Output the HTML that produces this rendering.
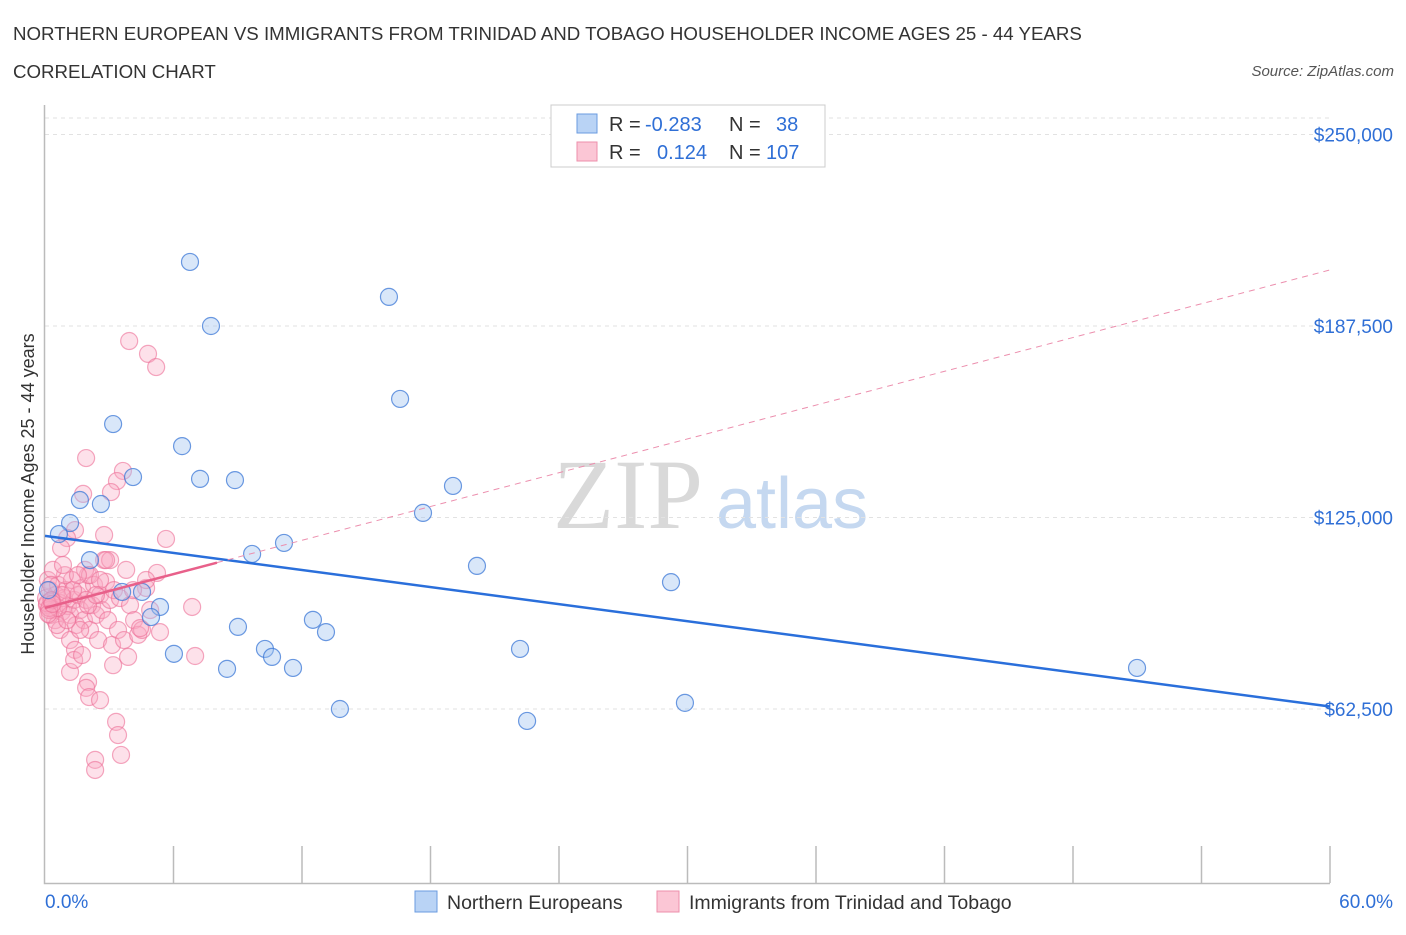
<!DOCTYPE html>
<html><head><meta charset="utf-8">
<style>
body{margin:0;background:#fff;font-family:"Liberation Sans",sans-serif;}
svg text{font-family:"Liberation Sans",sans-serif;}
</style></head>
<body>
<svg id="chart" width="1406" height="930" xmlns="http://www.w3.org/2000/svg">
<text x="13" y="40" font-size="18.7" fill="#333">NORTHERN EUROPEAN VS IMMIGRANTS FROM TRINIDAD AND TOBAGO HOUSEHOLDER INCOME AGES 25 - 44 YEARS</text>
<text x="13" y="78" font-size="18.7" fill="#333">CORRELATION CHART</text>
<text x="1394" y="76" font-size="15" fill="#555" font-style="italic" text-anchor="end">Source: ZipAtlas.com</text>
<text transform="translate(34,494) rotate(-90)" font-size="18" fill="#333" text-anchor="middle">Householder Income Ages 25 - 44 years</text>
<g>
<text x="553" y="528" font-size="100" style="font-family:'Liberation Serif',serif" fill="#d9d9d9">ZIP</text>
<text x="716" y="528" font-size="72" fill="#c5d8f0">atlas</text>
</g>
<g id="grid"></g>
<g id="axes"></g>
<g id="pts"></g>
<g id="lines"></g>
<g>
<rect x="551" y="105" width="274" height="62" fill="#fff" stroke="#ccc"/>
<rect x="577" y="114" width="20" height="19" fill="#b9d3f5" stroke="#6a9be0"/>
<rect x="577" y="142" width="20" height="19" fill="#fbc6d5" stroke="#ee8fab"/>
<text x="609" y="131" font-size="20" fill="#333">R =</text>
<text x="645" y="131" font-size="20" fill="#2f6fd6">-0.283</text>
<text x="729" y="131" font-size="20" fill="#333">N =</text>
<text x="776" y="131" font-size="20" fill="#2f6fd6">38</text>
<text x="609" y="159" font-size="20" fill="#333">R =</text>
<text x="657" y="159" font-size="20" fill="#2f6fd6">0.124</text>
<text x="729" y="159" font-size="20" fill="#333">N =</text>
<text x="766" y="159" font-size="20" fill="#2f6fd6">107</text>
</g>
<g>
<rect x="415" y="891" width="22" height="21" fill="#b9d3f5" stroke="#6a9be0"/>
<text x="447" y="909" font-size="19.5" fill="#333">Northern Europeans</text>
</g>
<g>
<rect x="657" y="891" width="22" height="21" fill="#fbc6d5" stroke="#ee8fab"/>
<text x="689" y="909" font-size="19.5" fill="#333">Immigrants from Trinidad and Tobago</text>
</g>
</svg>
<script>
const yTicks=[62500,125000,187500,250000];
const yTickLabels=["$62,500","$125,000","$187,500","$250,000"];
const xTickLabels=["0.0%","60.0%"];
const blueX=[6.77,16.06,7.75,16.58,3.18,6.40,7.24,8.87,4.11,1.63,2.61,19.05,17.65,1.17,0.65,11.16,9.67,2.10,20.17,29.23,3.60,4.53,5.37,4.95,12.51,13.12,9.01,6.02,10.27,10.60,11.58,8.50,22.18,50.99,13.77,29.88,22.51,0.14];
const blueY=[208.4,197.0,187.5,163.7,155.5,148.3,137.6,137.2,138.2,130.7,129.4,135.3,126.5,123.2,119.6,116.7,113.1,111.1,109.2,103.9,100.7,100.7,95.8,92.5,91.6,87.6,89.3,80.5,82.1,79.5,75.9,75.6,82.1,75.9,62.5,64.5,58.6,101.3];
const pinkX=[0.14,0.23,0.33,0.42,0.09,0.51,0.61,0.70,0.79,0.89,0.98,1.07,1.17,1.26,1.36,1.45,1.54,1.64,1.73,1.82,1.92,2.01,2.10,2.20,2.29,2.38,2.48,2.57,2.66,2.76,2.85,2.94,3.04,3.13,3.22,3.41,3.50,3.69,3.79,3.97,4.16,4.35,4.53,4.72,4.91,0.47,0.70,0.93,1.17,1.40,1.64,1.87,2.10,0.23,0.37,0.56,0.84,1.03,1.31,1.54,2.57,3.04,2.01,2.38,0.05,0.19,0.28,0.61,0.79,0.10,0.20,0.30,0.15,0.35,
3.93,4.81,5.19,1.92,3.64,3.36,3.08,1.78,5.65,2.76,1.40,1.03,2.85,0.75,6.87,7.01,3.32,3.41,3.55,2.34,2.34,2.01,1.92,2.06,2.57,1.17,1.36,1.73,3.18,3.88,5.23,4.72,4.11,4.44,5.37];
const pinkY=[104.6,101.3,98.1,94.8,96.4,99.7,103.0,97.1,94.2,98.7,101.3,96.1,93.2,104.6,98.1,89.9,99.7,94.8,102.0,91.5,98.1,106.2,88.3,96.4,103.0,93.2,85.0,99.7,94.8,111.1,104.0,91.5,98.1,83.4,101.3,88.3,98.7,85.0,107.9,96.4,91.5,86.7,88.3,102.0,94.8,91.5,88.3,106.2,85.0,81.8,88.3,107.9,106.2,93.2,107.9,89.9,109.5,91.5,101.3,106.2,104.6,111.1,96.4,99.7,98.7,94.8,103.0,95.5,99.7,97.0,95.5,98.0,93.5,96.8,
182.6,178.4,174.1,144.4,140.2,136.9,133.3,132.7,118.0,119.3,120.9,118.3,111.1,115.0,95.8,79.8,58.3,54.0,47.5,45.9,42.6,71.3,69.4,66.4,65.4,74.6,78.5,80.1,76.8,79.5,106.9,104.6,101.3,88.9,87.6];
const blueTrend=[119.0,63.3];
const pinkTrend=[95.5,205.8];
const pinkSolidEnd=8.03;

const NS="http://www.w3.org/2000/svg";
function X(p){return 45+p*1285/60;}
function Y(k){return 900.5-k*1000/62500*191.5;}
function mk(tag,attrs,parent){const e=document.createElementNS(NS,tag);for(const a in attrs)e.setAttribute(a,attrs[a]);document.getElementById(parent).appendChild(e);return e;}

const topGrid=mk('line',{x1:45,x2:1330,y1:118,y2:118,stroke:'#e2e2e2','stroke-dasharray':'4,4'},'grid');


yTicks.forEach((v,i)=>{
  const g=mk('line',{x1:45,x2:1330,y1:Y(v/1000),y2:Y(v/1000),stroke:'#e2e2e2','stroke-dasharray':'4,4'},'grid');
  
  
  const t=mk('text',{x:1393,y:Y(v/1000)+7,'font-size':19,fill:'#2f6fd6','text-anchor':'end'},'axes');
  t.textContent=yTickLabels[i];
  
  
});
const ax=mk('path',{d:'M44.5,105 V883.5 H1330',stroke:'#bbb',fill:'none','stroke-width':1.5},'axes');


for(let i=1;i<=10;i++){
  const tk=mk('line',{x1:X(i*6),x2:X(i*6),y1:846,y2:883,stroke:'#bbb','stroke-width':1.5},'axes');
  
  
}
const xl0=mk('text',{x:45,y:908,'font-size':19,fill:'#2f6fd6'},'axes');xl0.textContent=xTickLabels[0];


const xl1=mk('text',{x:1393,y:908,'font-size':19,fill:'#2f6fd6','text-anchor':'end'},'axes');xl1.textContent=xTickLabels[1];



pinkX.forEach((x,i)=>{
  const c=mk('circle',{cx:X(x),cy:Y(pinkY[i]),r:8.5,fill:'rgba(248,170,195,0.35)',stroke:'rgba(236,110,150,0.6)','stroke-width':1.2},'pts');
  
  
});
blueX.forEach((x,i)=>{
  const c=mk('circle',{cx:X(x),cy:Y(blueY[i]),r:8.5,fill:'rgba(160,195,240,0.4)',stroke:'rgba(60,120,215,0.75)','stroke-width':1.2},'pts');
  
  
});
const bl=mk('line',{x1:X(0),y1:Y(blueTrend[0]),x2:X(60),y2:Y(blueTrend[1]),stroke:'#2a6fdb','stroke-width':2.5},'lines');


const ps=pinkTrend[0]+(pinkTrend[1]-pinkTrend[0])*pinkSolidEnd/60;
const pd=mk('line',{x1:X(pinkSolidEnd),y1:Y(ps),x2:X(60),y2:Y(pinkTrend[1]),stroke:'#ec8fae','stroke-width':1,'stroke-dasharray':'6,5'},'lines');


const pl=mk('line',{x1:X(0),y1:Y(pinkTrend[0]),x2:X(pinkSolidEnd),y2:Y(ps),stroke:'#e8608a','stroke-width':2.5},'lines');


</script>
</body></html>
